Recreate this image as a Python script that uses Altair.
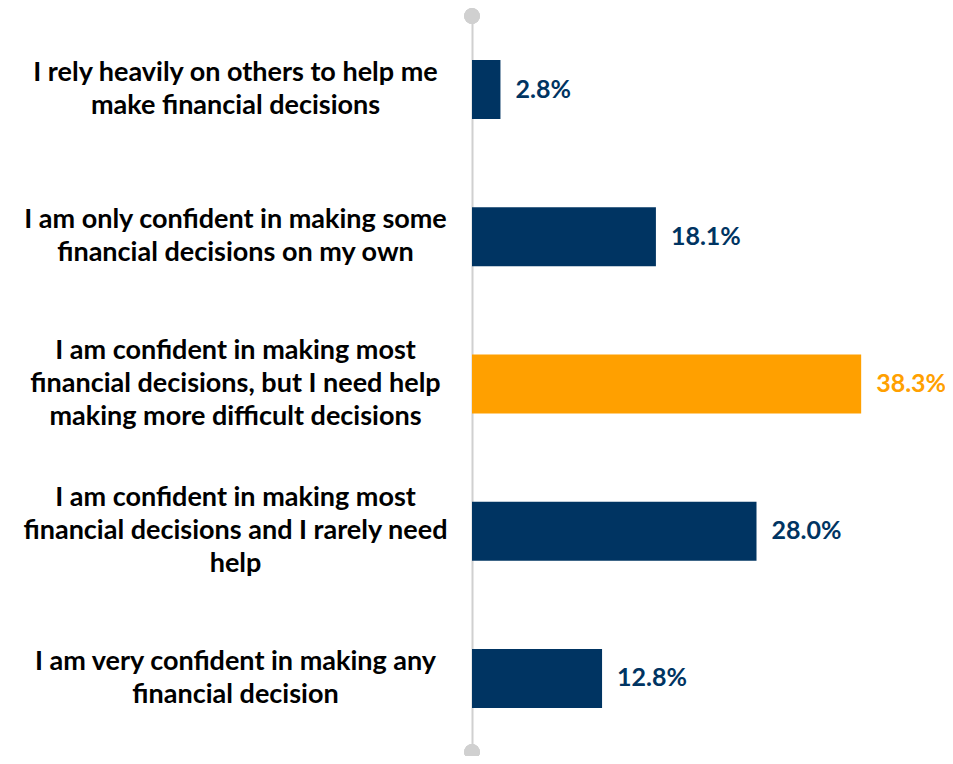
import altair as alt
import pandas as pd

categories = [
    "I rely heavily on others to help me\nmake financial decisions",
    "I am only confident in making some\nfinancial decisions on my own",
    "I am confident in making most\nfinancial decisions, but I need help\nmaking more difficult decisions",
    "I am confident in making most\nfinancial decisions and I rarely need\nhelp",
    "I am very confident in making any\nfinancial decision",
]
values = [2.8, 18.1, 38.3, 28.0, 12.8]
highlight = [False, False, True, False, False]

NAVY = "#003462"
ORANGE = "#FFA000"
GREY = "#d0d0d0"
FONT = "Lato"
LH = 33

W, H = 473, 736

df = pd.DataFrame({"cat": categories, "value": values, "hl": highlight})
df["label"] = df["value"].map(lambda v: f"{v:.1f}%")

y_enc = alt.Y(
    "cat:N",
    sort=categories,
    scale=alt.Scale(paddingInner=0, paddingOuter=0),
    axis=alt.Axis(
        title=None,
        labelExpr="split(datum.label, '\\n')",
        labelAlign="center",
        labelBaseline="middle",
        labelPadding=237,
        labelOffset={
            "condition": {"test": "length(split(datum.label, '\\n')) >= 3", "value": -LH},
            "value": -LH / 2,
        },
        labelFont=FONT,
        labelFontWeight="bold",
        labelFontSize=27,
        labelLineHeight=LH,
        labelColor="#000000",
        labelLimit=0,
        ticks=False,
        domain=True,
        domainColor=GREY,
        domainWidth=2,
        grid=False,
    ),
)
x_enc = alt.X("value:Q", scale=alt.Scale(domain=[0, 46.55], nice=False, zero=True), axis=None)
color_enc = alt.Color(
    "hl:N", scale=alt.Scale(domain=[False, True], range=[NAVY, ORANGE]), legend=None
)

base = alt.Chart(df)
bars = base.mark_bar(size=59).encode(y=y_enc, x=x_enc, color=color_enc)
text = base.mark_text(
    align="left", baseline="middle", dx=15, font=FONT, fontWeight="bold", fontSize=25
).encode(
    y=alt.Y("cat:N", sort=categories),
    x=alt.X("value:Q", axis=None),
    text="label:N",
    color=color_enc,
)

dot_top = base.mark_point(filled=True, shape="circle", size=240, color=GREY, opacity=1).encode(
    x=alt.value(0), y=alt.value(0)
)
dot_bottom = base.mark_point(filled=True, shape="circle", size=240, color=GREY, opacity=1).encode(
    x=alt.value(0), y=alt.value(H)
)

chart = (
    alt.layer(bars, text, dot_top, dot_bottom)
    .properties(
        width=W,
        height=H,
        background="white",
        autosize=alt.AutoSizeParams(type="none"),
        padding={"left": 464, "top": 8, "right": 0, "bottom": 4},
    )
    .configure_view(strokeWidth=0, stroke="transparent")
    .configure_axisX(domain=False, grid=False, ticks=False, labels=False)
)

chart.save("out.html", embed_options={"renderer": "svg", "actions": False})
